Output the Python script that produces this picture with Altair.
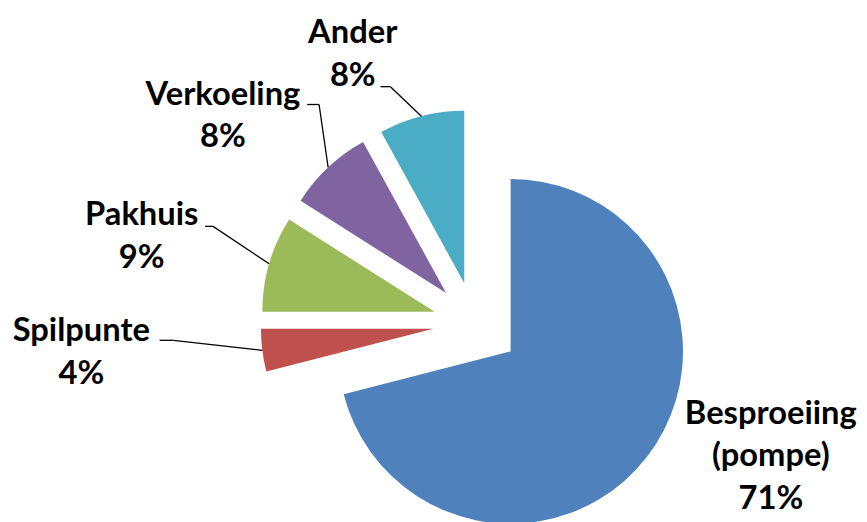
import math
import altair as alt
import pandas as pd

# ---- data ----
categories = ["Besproeiing (pompe)", "Spilpunte", "Pakhuis", "Verkoeling", "Ander"]
label_names = ["Besproeiing\n(pompe)", "Spilpunte", "Pakhuis", "Verkoeling", "Ander"]
values = [71, 4, 9, 8, 8]

# ---- style / layout ----
colors = ["#4F81BD", "#C0504D", "#9BBB59", "#8064A2", "#4BACC6"]
explode = [46, 42, 42, 42, 42]          # px offset of each slice along its mid-angle
label_dx = [299, -397, -336, -254, -123]  # label anchor relative to pie centre
label_dy = [101, 18, -99, -221, -283]
has_leader = [False, True, True, True, True]
leader_dx = [0, -318, -272, -169, -95]
leader_dy = [0, 17, -98, -221, -239]
elbow = [0, 14, 8, 12, 10]

W, H = 859, 514
CX, CY = 471, 316
R = 174
total = sum(values)

df = pd.DataFrame({
    "category": categories,
    "label": [f"{n}\n{v}%" for n, v in zip(label_names, values)],
    "value": values,
    "order": list(range(len(values))),
    "explode": explode,
    "ldx": label_dx,
    "ldy": label_dy,
    "leader": has_leader,
    "adx": leader_dx,
    "ady": leader_dy,
    "elbow": elbow,
})

base = alt.Chart(df).transform_window(
    cum="sum(value)", sort=[alt.SortField("order")], frame=[None, 0]
).transform_calculate(
    start="datum.cum - datum.value",
    mid=f"(datum.cum - datum.value/2)/{total}*2*PI",
).transform_calculate(
    cx=f"{CX} + datum.explode*sin(datum.mid)",
    cy=f"{CY} - datum.explode*cos(datum.mid)",
    lx=f"{CX} + datum.ldx",
    ly=f"{CY} + datum.ldy",
    ax=f"{CX} + datum.adx",
    ay=f"{CY} + datum.ady",
    ex=f"{CX} + datum.adx + datum.elbow",
).transform_calculate(
    px=f"datum.cx + {R}*sin(datum.mid)",
    py=f"datum.cy - {R}*cos(datum.mid)",
)

arcs = base.mark_arc(radius=R).encode(
    theta=alt.Theta("start:Q", stack=None,
                    scale=alt.Scale(domain=[0, total], range=[0, 2 * math.pi])),
    theta2="cum:Q",
    x=alt.X("cx:Q", scale=None),
    y=alt.Y("cy:Q", scale=None),
    color=alt.Color("category:N", scale=alt.Scale(domain=categories, range=colors), legend=None),
)

leaders = base.transform_filter("datum.leader")
rule_h = leaders.mark_rule(color="black", strokeWidth=1.3).encode(
    x=alt.X("ax:Q", scale=None), x2="ex:Q", y=alt.Y("ay:Q", scale=None),
)
rule_d = leaders.mark_rule(color="black", strokeWidth=1.3).encode(
    x=alt.X("ex:Q", scale=None), y=alt.Y("ay:Q", scale=None), x2="px:Q", y2="py:Q",
)

labels = base.mark_text(
    font="Lato", fontWeight="bold", fontSize=33, align="center",
    baseline="alphabetic", lineBreak="\n", lineHeight=43, color="black",
).encode(
    x=alt.X("lx:Q", scale=None),
    y=alt.Y("ly:Q", scale=None),
    text="label:N",
)

chart = alt.layer(arcs, rule_h, rule_d, labels).properties(
    width=W, height=H, padding=0, autosize=alt.AutoSizeParams(type="none"),
    background="white",
).configure_view(stroke=None)

chart.save("out.html", embed_options={"renderer": "svg", "actions": False})
